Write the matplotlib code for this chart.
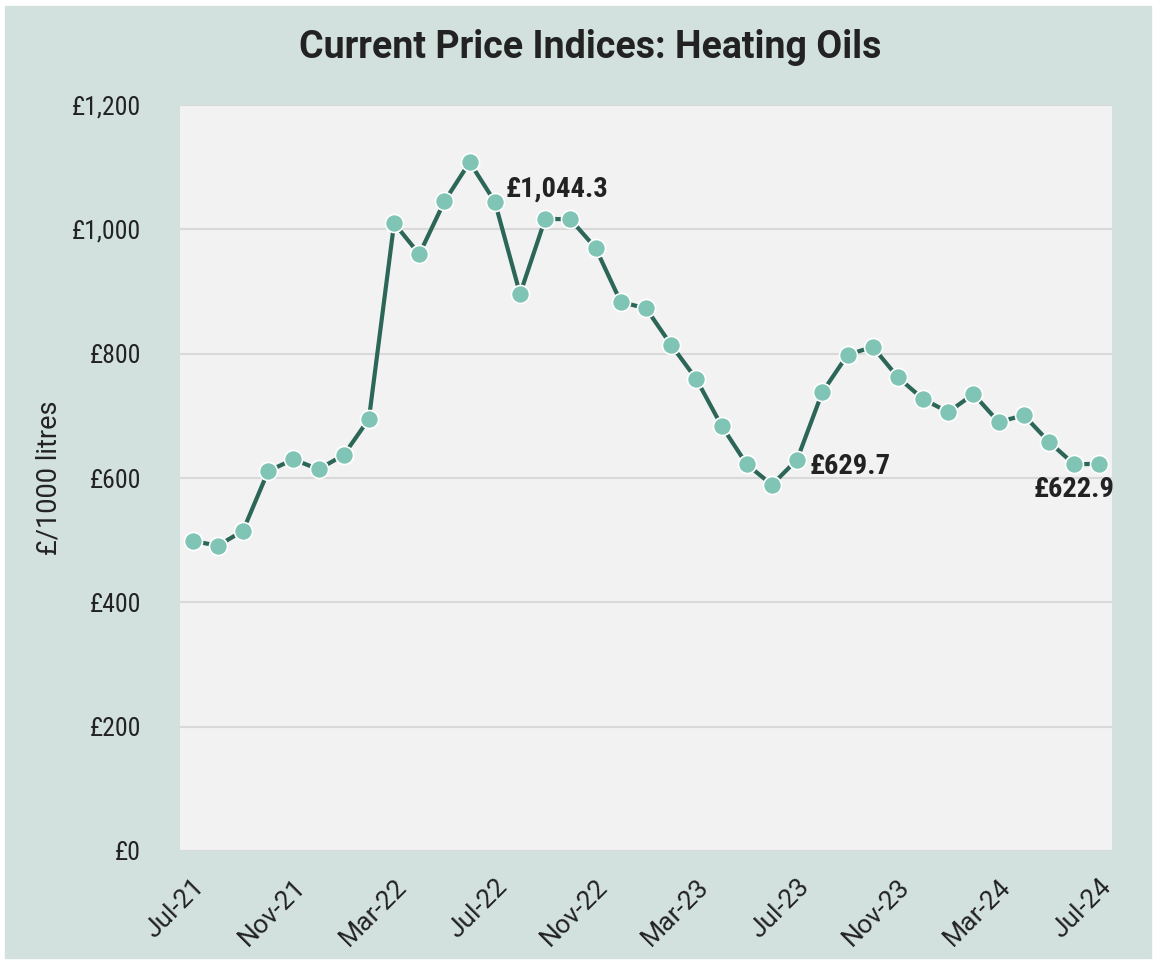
import matplotlib.pyplot as plt
from matplotlib.patches import Rectangle
from matplotlib import font_manager as fm

# monthly heating oil price, Jul-21 .. Jul-24 (£/1000 litres)
months = ["Jul-21", "Aug-21", "Sep-21", "Oct-21", "Nov-21", "Dec-21", "Jan-22", "Feb-22",
          "Mar-22", "Apr-22", "May-22", "Jun-22", "Jul-22", "Aug-22", "Sep-22", "Oct-22",
          "Nov-22", "Dec-22", "Jan-23", "Feb-23", "Mar-23", "Apr-23", "May-23", "Jun-23",
          "Jul-23", "Aug-23", "Sep-23", "Oct-23", "Nov-23", "Dec-23", "Jan-24", "Feb-24",
          "Mar-24", "Apr-24", "May-24", "Jun-24", "Jul-24"]
prices = [499, 491, 515, 611, 630, 614, 637, 695,
          1010, 960, 1045, 1108, 1044.3, 896, 1017, 1016,
          970, 883, 873, 814, 759, 684, 622, 589,
          629.7, 738, 798, 811, 762, 727, 706, 735,
          690, 701, 658, 622, 622.9]
tick_labels = months[::4]
# index -> (label, offset in points, ha, va)
labelled = {12: ("£1,044.3", (8, 9), "left", "center"),
            24: ("£629.7", (9, -5), "left", "center"),
            36: ("£622.9", (11, -9), "right", "top")}

names = {f.name for f in fm.fontManager.ttflist}
cond = "Roboto Condensed" if "Roboto Condensed" in names else "Liberation Sans Narrow"
plt.rcParams["font.family"] = [cond, "DejaVu Sans"]
WIDE = ["Roboto", "DejaVu Sans"]
INK = "#222222"

BG = "#d3e1de"
fig = plt.figure(figsize=(11.56, 9.64), dpi=100)
fig.patch.set_facecolor("white")
frame = Rectangle((5 / 1156, 6 / 964), 1146 / 1156, 952 / 964,
                  transform=fig.transFigure, color=BG, zorder=-10)
fig.patches.append(frame)

ax = fig.add_axes([180 / 1156, 1 - 851 / 964, 932 / 1156, 746 / 964])
ax.set_facecolor("#f2f2f2")
x = list(range(len(months)))
ax.plot(x, prices, color="#2b6657", lw=3, marker="o", ms=13,
        mfc="#7fc4b4", mec="white", mew=1.2, zorder=3)

ax.set_xlim(-0.5, len(months) - 0.5)
ax.set_ylim(0, 1200)
ax.set_yticks(range(0, 1201, 200))
ax.set_yticklabels([f"£{v:,}" for v in range(0, 1201, 200)], fontsize=18.5, color=INK)
ax.set_xticks(x[::4])
ax.set_xticklabels(tick_labels, rotation=45, ha="right", va="top",
                   rotation_mode="anchor", fontsize=19, color=INK, family=WIDE)
ax.tick_params(length=0)
ax.tick_params(axis="x", pad=17)
ax.tick_params(axis="y", pad=28)
ax.grid(axis="y", color="#d9d9d9", lw=1.5)
ax.set_axisbelow(True)
for s in ax.spines.values():
    s.set_visible(False)
ax.axhline(0, color="#d9d9d9", lw=2, zorder=1)

ax.set_ylabel("£/1000 litres", fontsize=19.5, color=INK, family=WIDE)
ax.yaxis.set_label_coords(-(180 - 63) / 932, 0.5)
fig.text(590 / 1156, 1 - 47 / 964, "Current Price Indices: Heating Oils", ha="center",
         va="center", fontsize=27, fontweight="bold", color=INK, family=WIDE)

for i, (txt, off, ha, va) in labelled.items():
    ax.annotate(txt, (i, prices[i]), xytext=off, textcoords="offset points",
                ha=ha, va=va, fontsize=20.5, fontweight="bold", color=INK)

fig.savefig("out.png", dpi=100, facecolor=fig.get_facecolor())
